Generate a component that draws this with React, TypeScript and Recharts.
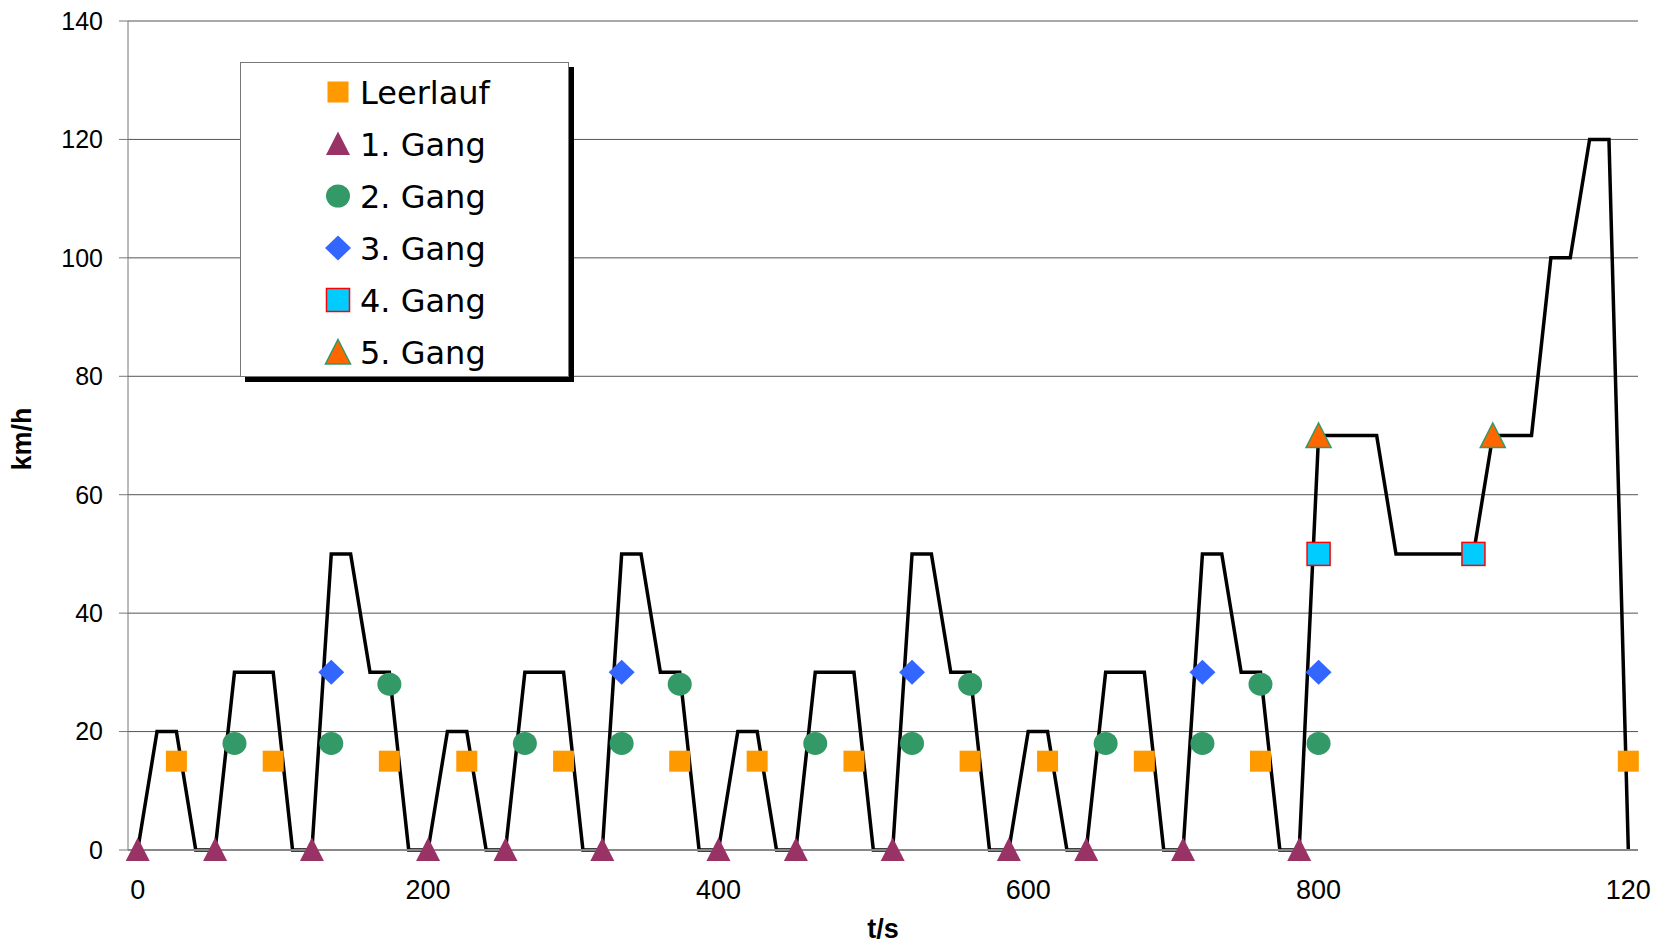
import React from "react";
import { ComposedChart, Line, XAxis, YAxis, CartesianGrid, Legend, Label } from "recharts";

// speed profile, one value per category step (km/h)
const speed = [
  0, 20, 20, 0, 0, 30, 30, 30, 0, 0, 50, 50, 30, 30, 0,
  0, 20, 20, 0, 0, 30, 30, 30, 0, 0, 50, 50, 30, 30, 0,
  0, 20, 20, 0, 0, 30, 30, 30, 0, 0, 50, 50, 30, 30, 0,
  0, 20, 20, 0, 0, 30, 30, 30, 0, 0, 50, 50, 30, 30, 0,
  0, 70, 70, 70, 70, 50, 50, 50, 50, 50, 70, 70, 70, 100, 100, 120, 120, 0,
];

const tickCats = [0, 15, 30, 46, 61, 77];
const tickLabels = ["0", "200", "400", "600", "800", "120"];
const yTicks = [0, 20, 40, 60, 80, 100, 120, 140];

type Pt = [number, number];

const leerlauf: Pt[] = [
  [2, 15], [7, 15], [13, 15], [17, 15], [22, 15], [28, 15], [32, 15],
  [37, 15], [43, 15], [47, 15], [52, 15], [58, 15], [77, 15],
];
const gang1: Pt[] = [
  [0, 0], [4, 0], [9, 0], [15, 0], [19, 0], [24, 0], [30, 0],
  [34, 0], [39, 0], [45, 0], [49, 0], [54, 0], [60, 0],
];
const gang2: Pt[] = [
  [5, 18], [10, 18], [13, 28], [20, 18], [25, 18], [28, 28], [35, 18],
  [40, 18], [43, 28], [50, 18], [55, 18], [58, 28], [61, 18],
];
const gang3: Pt[] = [[10, 30], [25, 30], [40, 30], [55, 30], [61, 30]];
const gang4: Pt[] = [[61, 50], [69, 50]];
const gang5: Pt[] = [[61, 70], [70, 70]];

const series = [
  { key: "leer", name: "Leerlauf", points: leerlauf, shape: "square" },
  { key: "g1", name: "1. Gang", points: gang1, shape: "triangle" },
  { key: "g2", name: "2. Gang", points: gang2, shape: "circle" },
  { key: "g3", name: "3. Gang", points: gang3, shape: "diamond" },
  { key: "g4", name: "4. Gang", points: gang4, shape: "box" },
  { key: "g5", name: "5. Gang", points: gang5, shape: "triangle2" },
];

const data = speed.map((v, i) => {
  const row: Record<string, number | null> = { i, v };
  series.forEach((s) => {
    const hit = s.points.find((p) => p[0] === i);
    row[s.key] = hit ? hit[1] : null;
  });
  return row;
});

function marker(shape: string, cx: number, cy: number, key?: string) {
  switch (shape) {
    case "square":
      return <rect key={key} x={cx - 10.5} y={cy - 10.5} width={21} height={21} fill="#FF9900" />;
    case "triangle":
      return (
        <polygon key={key} points={`${cx},${cy - 12.5} ${cx + 12},${cy + 11} ${cx - 12},${cy + 11}`} fill="#993366" />
      );
    case "circle":
      return <ellipse key={key} cx={cx} cy={cy} rx={12} ry={11.5} fill="#339966" />;
    case "diamond":
      return (
        <polygon key={key} points={`${cx},${cy - 12.5} ${cx + 13},${cy} ${cx},${cy + 12.5} ${cx - 13},${cy}`} fill="#3366FF" />
      );
    case "box":
      return (
        <rect key={key} x={cx - 11.5} y={cy - 11.5} width={23} height={23} fill="#00CCFF" stroke="#FF0000" strokeWidth={1.5} />
      );
    default:
      return (
        <polygon
          key={key}
          points={`${cx},${cy - 12.5} ${cx + 12.5},${cy + 12} ${cx - 12.5},${cy + 12}`}
          fill="#FF6600"
          stroke="#339966"
          strokeWidth={1.5}
        />
      );
  }
}

const dotFor = (shape: string) => (props: any) => {
  const { cx, cy, index } = props;
  if (props.value == null || cx == null || cy == null) return <g key={`n-${shape}-${index}`} />;
  return marker(shape, cx, cy, `d-${shape}-${index}`);
};

const LegendBox = () => (
  <svg width={336} height={322} style={{ display: "block" }}>
    <rect x={5} y={5} width={329} height={315} fill="#000" />
    <rect x={0.5} y={0.5} width={328} height={314} fill="#fff" stroke="#777" />
    {series.map((s, k) => (
      <g key={s.key}>
        {marker(s.shape, 98, 30 + k * 52)}
        <text x={120} y={30 + k * 52 + 11.5} fontFamily="DejaVu Sans" fontSize={32} fill="#000">
          {s.name}
        </text>
      </g>
    ))}
  </svg>
);

export default function App() {
  return (
    <div style={{ position: "absolute", left: 0, top: 0, width: 1667, height: 946, background: "#fff" }}>
      <ComposedChart width={1667} height={946} data={data} margin={{ top: 21, right: 29, bottom: 0, left: 0 }}>
        <CartesianGrid vertical={false} stroke="#555" />
        <XAxis
          dataKey="i"
          type="number"
          domain={[-0.5, 77.5]}
          ticks={tickCats}
          tickFormatter={(v: number) => tickLabels[tickCats.indexOf(v)]}
          interval={0}
          height={96}
          tickLine={false}
          tickSize={0}
          tickMargin={30}
          axisLine={{ stroke: "#888", strokeWidth: 2 }}
          tick={{ fontFamily: "Liberation Sans", fontSize: 27, fill: "#000" }}
        >
          <Label
            content={() => (
              <text x={883} y={938} textAnchor="middle" fontFamily="Liberation Sans" fontWeight="bold" fontSize={27} fill="#000">
                t/s
              </text>
            )}
          />
        </XAxis>
        <YAxis
          type="number"
          domain={[0, 140]}
          ticks={yTicks}
          width={128}
          tickSize={9}
          tickMargin={16}
          tickLine={{ stroke: "#777" }}
          axisLine={{ stroke: "#777" }}
          tick={{ fontFamily: "Liberation Sans", fontSize: 25, fill: "#000" }}
        >
          <Label
            content={() => (
              <text
                x={31}
                y={439}
                transform="rotate(-90 31 439)"
                textAnchor="middle"
                fontFamily="Liberation Sans"
                fontWeight="bold"
                fontSize={27}
                fill="#000"
              >
                km/h
              </text>
            )}
          />
        </YAxis>
        <Legend
          layout="vertical"
          align="center"
          verticalAlign="middle"
          wrapperStyle={{ left: 240, top: 62, width: 336, height: 322 }}
          content={() => <LegendBox />}
        />
        <Line
          dataKey="v"
          stroke="#000"
          strokeWidth={3.5}
          strokeLinejoin="miter"
          dot={false}
          activeDot={false}
          legendType="none"
          isAnimationActive={false}
        />
        {series.map((s) => (
          <Line
            key={s.key}
            dataKey={s.key}
            name={s.name}
            stroke="none"
            dot={dotFor(s.shape)}
            activeDot={false}
            isAnimationActive={false}
          />
        ))}
      </ComposedChart>
    </div>
  );
}
